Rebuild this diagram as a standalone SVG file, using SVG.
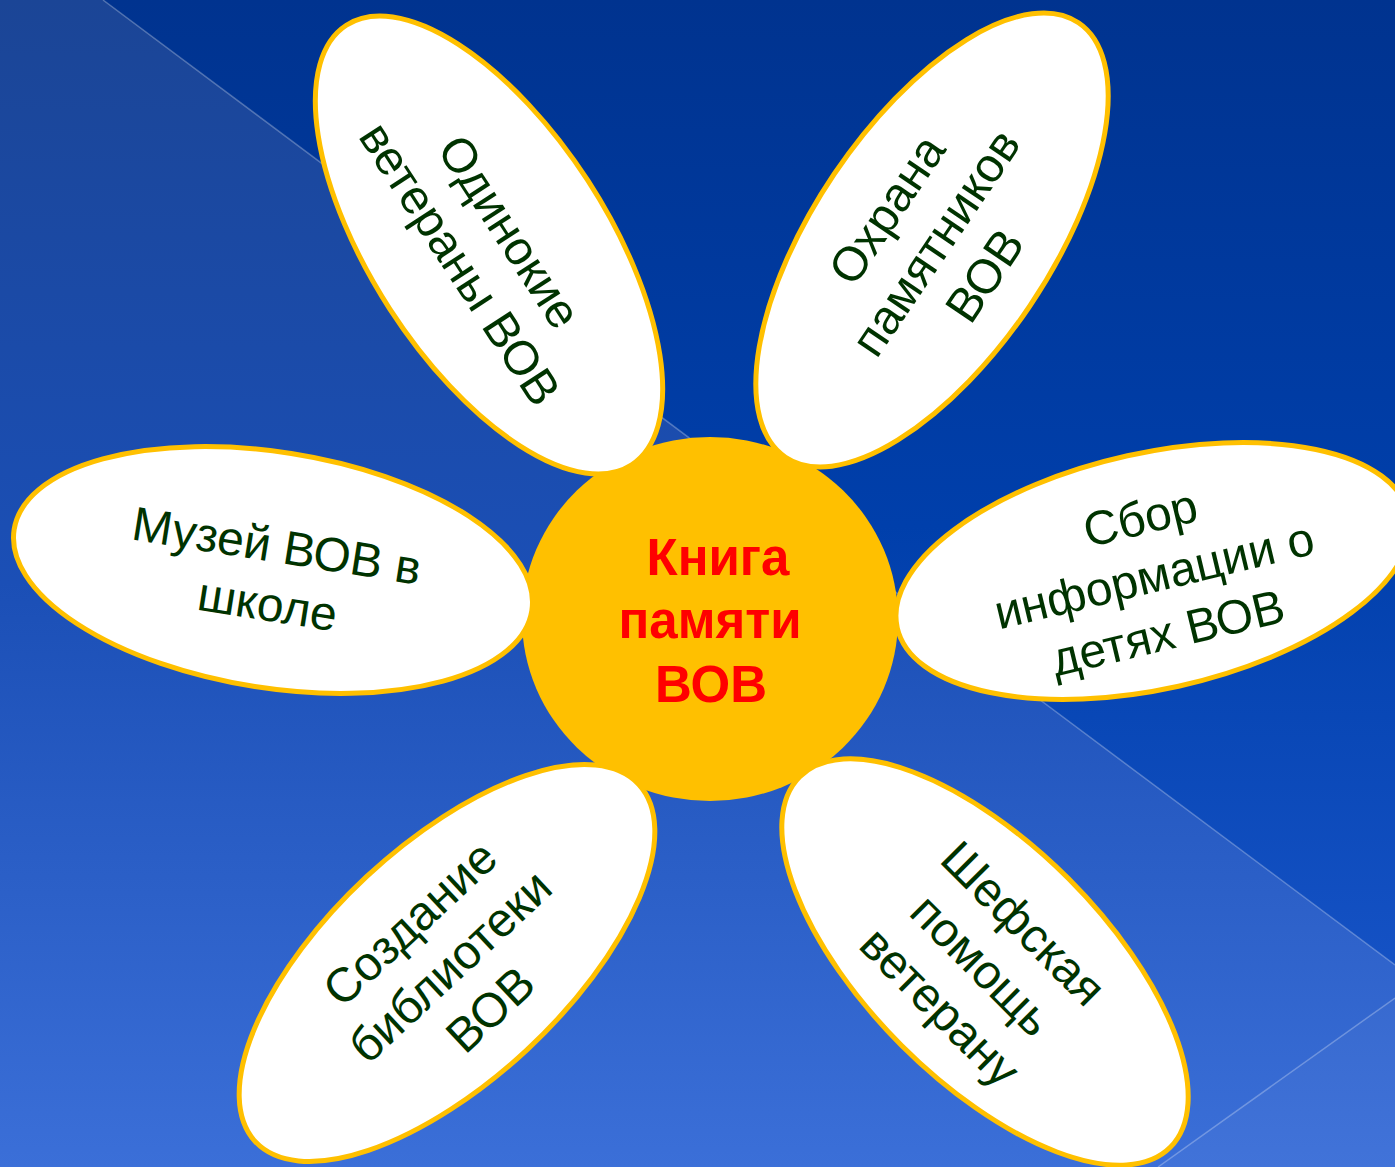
<svg xmlns="http://www.w3.org/2000/svg" width="1395" height="1167" viewBox="0 0 1395 1167">
  <defs>
    <linearGradient id="bgDark" x1="0" y1="0" x2="0" y2="1">
      <stop offset="0" stop-color="#00338f"/>
      <stop offset="0.45" stop-color="#003fab"/>
      <stop offset="1" stop-color="#1e5ad0"/>
    </linearGradient>
    <linearGradient id="bgLight" x1="0" y1="0" x2="0" y2="1">
      <stop offset="0" stop-color="#1b4596"/>
      <stop offset="0.5" stop-color="#1b4fb6"/>
      <stop offset="1" stop-color="#3b6fd8"/>
    </linearGradient>
    <style>
      .petal { fill: #ffffff; stroke: #ffc000; stroke-width: 5; }
      .pt { font-family: "Liberation Sans", Arial, sans-serif; font-size: 48px; fill: #003300; text-anchor: middle; }
      .ct { font-family: "Liberation Sans", Arial, sans-serif; font-size: 51px; font-weight: bold; fill: #ff0000; text-anchor: middle; }
      .bgline { stroke: #ffffff; stroke-opacity: 0.28; stroke-width: 1.5; fill: none; }
    </style>
  </defs>

  <g id="background">
    <rect x="0" y="0" width="1395" height="1167" fill="url(#bgDark)"/>
    <polygon points="0,0 103,0 1395,965 1395,1167 0,1167" fill="url(#bgLight)"/>
    <polygon points="1158,1167 1395,998 1395,1167" fill="#ffffff" fill-opacity="0.03"/>
    <line class="bgline" x1="103" y1="0" x2="1395" y2="965"/>
    <line class="bgline" x1="1158" y1="1167" x2="1395" y2="998"/>
  </g>

  <g id="center">
    <ellipse cx="710" cy="619" rx="188" ry="182" fill="#ffc000"/>
    <text class="ct"><tspan x="718" y="575">Книга</tspan><tspan x="710" y="638">памяти</tspan><tspan x="711" y="702">ВОВ</tspan></text>
  </g>

  <g id="petal-odinokie" transform="translate(489,245)">
    <ellipse class="petal" rx="118" ry="262" transform="rotate(-33)"/>
    <text class="pt" transform="rotate(57)"><tspan x="0" y="-8">Одинокие</tspan><tspan x="0" y="51">ветераны ВОВ</tspan></text>
  </g>

  <g id="petal-okhrana" transform="translate(932,240)">
    <ellipse class="petal" rx="118" ry="262" transform="rotate(34)"/>
    <text class="pt" transform="rotate(-56)"><tspan x="0" y="-38">Охрана</tspan><tspan x="0" y="21">памятников</tspan><tspan x="0" y="80">ВОВ</tspan></text>
  </g>

  <g id="petal-sbor" transform="translate(1153,571)">
    <ellipse class="petal" rx="262" ry="118" transform="rotate(-12.5)"/>
    <text class="pt" transform="rotate(-13.5)"><tspan x="0" y="-38">Сбор</tspan><tspan x="0" y="21">информации о</tspan><tspan x="0" y="80">детях ВОВ</tspan></text>
  </g>

  <g id="petal-muzei" transform="translate(273,570)">
    <ellipse class="petal" rx="262" ry="118" transform="rotate(8.9)"/>
    <text class="pt" transform="rotate(9)"><tspan x="0" y="-8">Музей ВОВ в</tspan><tspan x="0" y="51">школе</tspan></text>
  </g>

  <g id="petal-biblioteka" transform="translate(447,963)">
    <ellipse class="petal" rx="118" ry="262" transform="rotate(47)"/>
    <text class="pt" transform="rotate(-43)"><tspan x="0" y="-38">Создание</tspan><tspan x="0" y="21">библиотеки</tspan><tspan x="0" y="80">ВОВ</tspan></text>
  </g>

  <g id="petal-shefskaya" transform="translate(985,962)">
    <ellipse class="petal" rx="118" ry="262" transform="rotate(-45)"/>
    <text class="pt" transform="rotate(45)"><tspan x="0" y="-38">Шефская</tspan><tspan x="0" y="21">помощь</tspan><tspan x="0" y="80">ветерану</tspan></text>
  </g>
</svg>
